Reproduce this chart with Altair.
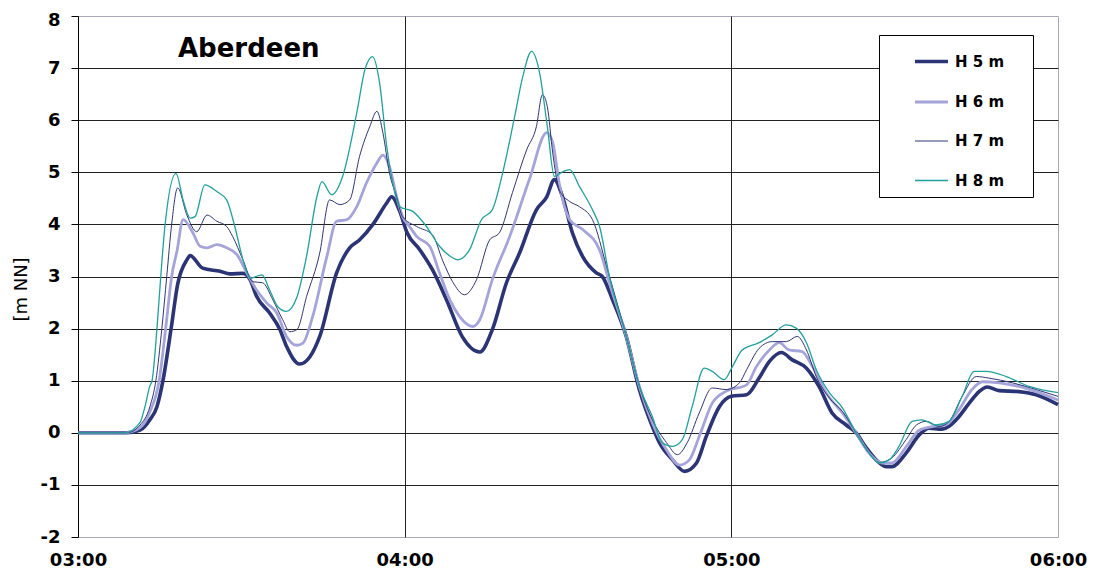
import json
import altair as alt
import pandas as pd

chart_title = "Aberdeen"
y_title = "[m NN]"
series_names = ["H 5 m", "H 6 m", "H 7 m", "H 8 m"]
series_colors = ["#2b3474", "#a4a4da", "#2f3672", "#22a09b"]
series_widths = [3.6, 2.8, 1.0, 1.3]

x_tick_values = [0, 60, 120, 180]
x_tick_labels = ["03:00", "04:00", "05:00", "06:00"]
y_tick_values = [-2, -1, 0, 1, 2, 3, 4, 5, 6, 7, 8]
y_tick_labels = ["-2", "-1", "0", "1", "2", "3", "4", "5", "6", "7", "8"]

# minutes after 03:00 / water level [m NN]
h5_t = [0, 9.0, 11.4, 13.2, 14.5, 15.6, 17.1, 18.3, 20.0, 20.6,
        22.9, 26.1, 27.9, 30.3, 31.6, 32.8, 35.2, 37.1, 38.3, 40.7,
        42.6, 44.4, 47.5, 49.9, 51.7, 54.1, 56.7, 57.6, 59.1, 60.4,
        62.8, 65.1, 67.7, 70.6, 73.8, 76.1, 78.7, 81.1, 84.2, 86.1,
        87.5, 89.0, 90.8, 92.7, 95.2, 96.3, 98.2, 100.7, 103.1, 105.5,
        106.8, 109.2, 111.4, 113.6, 115.4, 117.8, 120.0, 122.8, 125.1, 127.0,
        129.2, 131.2, 133.8, 136.1, 138.5, 141.1, 142.9, 144.8, 146.6, 148.4,
        149.5, 152.1, 154.5, 156.3, 158.7, 161.3, 163.7, 165.5, 167.0, 169.2,
        172.8, 176.0, 180]
h5_v = [0, 0, 0.05, 0.25, 0.5, 1.0, 2.0, 2.85, 3.32, 3.40,
        3.16, 3.10, 3.05, 3.06, 2.94, 2.62, 2.30, 1.98, 1.66, 1.32,
        1.46, 1.85, 3.07, 3.55, 3.70, 3.99, 4.41, 4.53, 4.25, 3.85,
        3.51, 3.13, 2.55, 1.84, 1.55, 1.98, 2.88, 3.45, 4.28, 4.53,
        4.86, 4.53, 3.84, 3.38, 3.07, 3.0, 2.55, 1.85, 0.83, 0.12,
        -0.19, -0.52, -0.74, -0.58, -0.07, 0.50, 0.70, 0.73, 1.05, 1.37,
        1.54, 1.40, 1.24, 0.89, 0.38, 0.15, 0.0, -0.29, -0.52, -0.65,
        -0.65, -0.39, -0.04, 0.09, 0.07, 0.25, 0.57, 0.79, 0.88, 0.81,
        0.79, 0.73, 0.54]

h6_t = [0, 8.6, 11.4, 13.2, 14.9, 16.1, 17.2, 18.2, 19.3, 21.1,
        22.4, 23.7, 25.5, 27.3, 29.2, 31.0, 32.8, 34.7, 36.5, 38.3,
        40.2, 41.3, 43.1, 45.7, 47.5, 49.4, 51.2, 53.0, 54.9, 56.0,
        57.2, 58.5, 59.6, 60.9, 62.2, 64.6, 66.4, 68.3, 70.1, 72.5,
        73.8, 76.1, 79.3, 82.9, 86.1, 87.2, 88.4, 90.3, 92.7, 95.8,
        97.6, 100.7, 103.1, 105.5, 108.1, 110.5, 112.3, 114.1, 116.5, 119.1,
        122.8, 124.6, 127.0, 128.8, 130.6, 133.0, 134.9, 137.4, 140.4, 142.9,
        145.3, 147.7, 149.5, 152.1, 154.5, 156.9, 159.4, 161.8, 164.2, 166.1,
        169.2, 172.8, 176.5, 180]
h6_v = [0, 0, 0.1, 0.4, 1.0, 2.0, 3.0, 3.5, 4.09, 3.84,
        3.58, 3.55, 3.61, 3.55, 3.42, 3.07, 2.74, 2.49, 2.30, 1.85,
        1.68, 1.72, 2.23, 3.38, 4.06, 4.09, 4.34, 4.80, 5.18, 5.33,
        5.11, 4.54, 4.15, 3.96, 3.77, 3.58, 3.07, 2.55, 2.23, 2.04,
        2.17, 2.94, 3.77, 4.86, 5.76, 5.57, 4.78, 4.09, 3.90, 3.51,
        2.88, 1.85, 0.89, 0.19, -0.33, -0.62, -0.52, -0.07, 0.57, 0.80,
        0.92, 1.27, 1.59, 1.73, 1.59, 1.56, 1.27, 0.77, 0.38, 0.0,
        -0.39, -0.58, -0.58, -0.27, 0.05, 0.12, 0.15, 0.44, 0.83, 0.98,
        0.96, 0.89, 0.77, 0.63]

h7_t = [0, 9.0, 11.4, 13.2, 14.3, 15.4, 16.3, 17.2, 18.3, 20.0,
        21.8, 23.7, 25.5, 27.3, 28.4, 30.3, 32.1, 33.9, 35.8, 37.6,
        38.9, 40.2, 42.0, 44.4, 46.2, 48.1, 49.9, 51.7, 53.6, 54.9,
        56.0, 57.2, 58.5, 59.6, 62.2, 65.1, 67.0, 68.8, 71.0, 73.2,
        75.6, 77.4, 79.8, 82.4, 84.2, 85.3, 86.2, 87.2, 88.4, 90.3,
        92.1, 94.5, 97.1, 100.7, 103.1, 105.5, 108.1, 110.1, 111.9, 114.1,
        116.5, 119.1, 121.5, 122.8, 125.1, 127.5, 130.1, 132.1, 133.8, 135.6,
        138.0, 140.4, 142.9, 145.3, 147.2, 149.5, 152.1, 154.0, 155.8, 158.2,
        160.0, 162.4, 165.0, 167.3, 171.6, 176.0, 180]
h7_v = [0, 0, 0.15, 0.5, 1.0, 2.0, 3.0, 4.0, 4.70, 4.18,
        3.86, 4.18, 4.06, 3.96, 3.77, 3.32, 2.90, 2.88, 2.55, 2.17,
        1.94, 1.98, 2.62, 3.45, 4.47, 4.38, 4.47, 5.30, 5.88, 6.17,
        5.76, 4.99, 4.54, 4.15, 3.96, 3.80, 3.30, 2.90, 2.65, 2.94,
        3.70, 3.84, 4.61, 5.43, 5.88, 6.49, 6.26, 5.37, 4.66, 4.44,
        4.34, 4.09, 3.19, 1.85, 0.90, 0.25, -0.19, -0.42, -0.19, 0.38,
        0.86, 0.83, 0.96, 1.21, 1.62, 1.75, 1.75, 1.85, 1.59, 1.08,
        0.67, 0.41, 0.0, -0.39, -0.57, -0.48, -0.13, 0.15, 0.22, 0.12,
        0.22, 0.70, 1.08, 1.05, 0.96, 0.83, 0.70]

h8_t = [0, 8.6, 11.4, 12.3, 13.2, 13.6, 14.5, 15.2, 16.0, 18.0,
        19.3, 20.6, 21.5, 23.3, 25.5, 27.3, 28.8, 30.3, 31.6, 33.8,
        35.2, 36.7, 38.3, 40.2, 42.0, 43.9, 44.8, 46.6, 48.6, 51.2,
        52.7, 54.1, 55.4, 56.7, 57.8, 59.1, 61.5, 64.0, 66.4, 68.8,
        69.7, 71.9, 74.1, 76.1, 78.0, 80.2, 81.7, 83.3, 84.8, 86.2,
        87.5, 89.0, 90.3, 92.1, 94.5, 95.8, 97.6, 100.7, 103.1, 105.5,
        107.3, 109.2, 111.0, 112.8, 115.0, 116.5, 118.7, 120.2, 122.0, 125.1,
        127.5, 130.1, 131.9, 133.8, 135.6, 138.0, 140.4, 142.9, 145.3, 147.2,
        149.0, 150.8, 153.2, 155.0, 157.6, 160.0, 162.4, 164.6, 166.8, 170.5,
        174.7, 180]
h8_v = [0, 0, 0.2, 0.5, 0.9, 1.0, 2.0, 3.0, 4.0, 4.98,
        4.47, 4.12, 4.15, 4.76, 4.63, 4.47, 3.96, 3.32, 2.97, 3.03,
        2.74, 2.42, 2.33, 2.60, 3.40, 4.54, 4.82, 4.57, 4.92, 6.14,
        6.97, 7.22, 6.71, 5.50, 4.80, 4.34, 4.25, 3.96, 3.58, 3.36,
        3.32, 3.51, 4.09, 4.28, 4.99, 6.07, 6.84, 7.32, 6.90, 5.88,
        4.92, 5.01, 5.05, 4.73, 4.28, 3.96, 3.0, 1.85, 0.90, 0.31,
        -0.19, -0.26, -0.13, 0.50, 1.24, 1.18, 1.02, 1.27, 1.59, 1.73,
        1.88, 2.07, 2.01, 1.73, 1.21, 0.77, 0.48, 0.0, -0.39, -0.58,
        -0.52, -0.26, 0.22, 0.25, 0.15, 0.22, 0.70, 1.18, 1.18, 1.08,
        0.89, 0.77]

all_t = [h5_t, h6_t, h7_t, h8_t]
all_v = [h5_v, h6_v, h7_v, h8_v]
rows = []
for order, (name, ts, vs) in enumerate(zip(series_names, all_t, all_v)):
    assert len(ts) == len(vs), name
    for t, v in zip(ts, vs):
        rows.append({"series": name, "order": order, "t": t, "v": v})
df = pd.DataFrame(rows)

FONT = "DejaVu Sans"
x_label_expr = f"{json.dumps(x_tick_labels)}[indexof({json.dumps(x_tick_values)}, datum.value)]"
y_label_expr = f"{json.dumps(y_tick_labels)}[indexof({json.dumps(y_tick_values)}, datum.value)]"
# trailing no-break spaces (kept from trimming by a zero-width space) widen the legend box
legend_pad = "\u00a0" * 4 + "\u200b"
legend_label_expr = f"datum.label + '{legend_pad}'"

lines = alt.Chart(df).mark_line(interpolate="monotone", strokeJoin="round").encode(
    x=alt.X("t:Q",
            scale=alt.Scale(domain=[0, 180], nice=False, zero=False),
            axis=alt.Axis(values=x_tick_values, labelExpr=x_label_expr, title=None,
                          ticks=False, tickSize=0, domain=False, labelPadding=14,
                          labelFont=FONT, labelFontSize=18, labelFontWeight="bold",
                          labelColor="black", labelFlush=False,
                          gridColor={"condition": {"test": "datum.value == 0 || datum.value == 180",
                                                   "value": "transparent"},
                                     "value": "#222222"})),
    y=alt.Y("v:Q",
            scale=alt.Scale(domain=[-2, 8], nice=False, zero=False),
            axis=alt.Axis(values=y_tick_values, labelExpr=y_label_expr, title=y_title,
                          tickSize=7, tickColor="black",
                          domainColor="black", labelPadding=11, labelFont=FONT,
                          labelFontSize=18, labelFontWeight="bold", labelColor="black",
                          labelOffset={"condition": {"test": "datum.value == 8", "value": 4},
                                       "value": 0},
                          titleFont=FONT, titleFontSize=18, titleFontWeight="normal",
                          titleColor="black", titlePadding=10, titleY=273,
                          titleAlign="center", titleAngle=270, titleBaseline="bottom",
                          gridColor={"condition": {"test": "datum.value == 8 || datum.value == -2",
                                                   "value": "transparent"},
                                     "value": "#222222"})),
    color=alt.Color("series:N", scale=alt.Scale(domain=series_names, range=series_colors),
                    legend=alt.Legend(title=None, labelExpr=legend_label_expr)),
    strokeWidth=alt.StrokeWidth("series:N",
                                scale=alt.Scale(type="ordinal", domain=series_names, range=series_widths),
                                legend=alt.Legend(title=None, labelExpr=legend_label_expr)),
    order=alt.Order("order:Q"),
)

title_df = pd.DataFrame({"label": [chart_title]})
title_mark = alt.Chart(title_df).mark_text(
    font=FONT, fontSize=26, fontWeight="bold", align="left", baseline="alphabetic", color="black"
).encode(text="label:N", x=alt.value(100), y=alt.value(41))

chart = alt.layer(lines, title_mark).properties(
    width=980, height=521,
    autosize=alt.AutoSizeParams(type="none"),
    padding={"left": 70, "top": 8, "right": 31, "bottom": 36},
).configure_view(
    stroke="#a8a8b8", strokeWidth=1
).configure_legend(
    orient="none", legendX=801, legendY=19, fillColor="white", strokeColor="black",
    padding=8, symbolType="stroke", symbolSize=1089, symbolOffset=26, labelOffset=5,
    rowPadding=14, labelFont=FONT, labelFontWeight="bold", labelFontSize=15,
    labelColor="black",
).configure_axis(gridWidth=1)

chart.save("out.html", embed_options={"renderer": "svg", "actions": False})
